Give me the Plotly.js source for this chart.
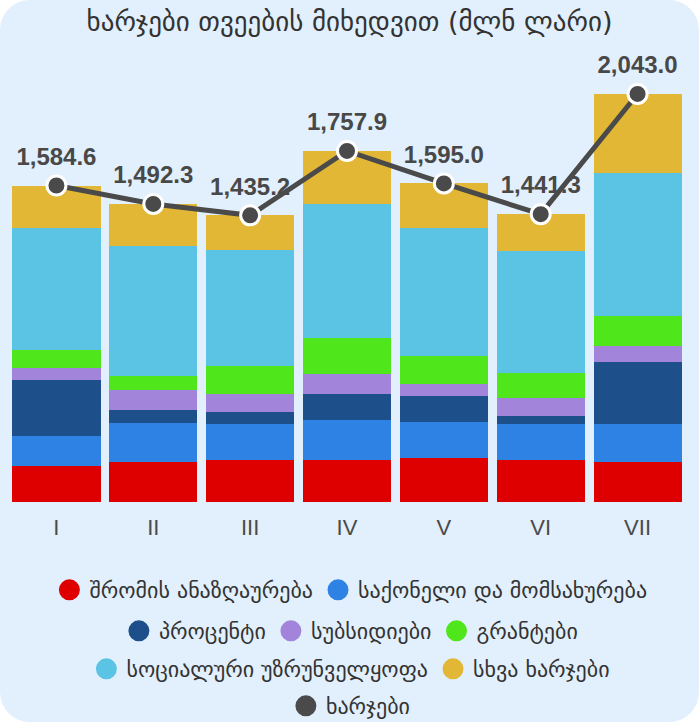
<!DOCTYPE html>
<html>
<head>
<meta charset="utf-8">
<script src="https://cdn.plot.ly/plotly-3.0.1.min.js"></script>
<style>
html,body{margin:0;padding:0;background:#ffffff;}
#wrap{position:absolute;left:0;top:0;width:699px;height:722px;background:#E2EFFC;border-radius:30px;overflow:hidden;}
#chart{width:699px;height:722px;}
</style>
</head>
<body>
<div id="wrap"><div id="chart"></div></div>
<script>
const months = ["I","II","III","IV","V","VI","VII"];
const labour    = [178.5, 201.8, 210.2, 208.9, 218.5, 209.5, 199.3];
const goods     = [150.1, 191.8, 180.1, 200.5, 180.2, 181.0, 190.9];
const interest  = [280.2,  66.7,  60.0, 130.3, 130.1,  40.2, 311.5];
const subsidies = [ 60.0, 101.7,  90.1, 100.3,  61.7,  92.2,  80.4];
const grants    = [ 90.1,  70.1, 140.1, 182.1, 140.1, 120.7, 150.7];
const social    = [610.5, 648.9, 580.5, 670.1, 640.7, 611.7, 713.4];
const other     = [215.2, 211.3, 174.2, 265.7, 223.6, 186.0, 396.8];
const totals    = [1584.6, 1492.3, 1435.2, 1757.9, 1595.0, 1441.3, 2043.0];

const seriesNames = ["შრომის ანაზღაურება","საქონელი და მომსახურება","პროცენტი","სუბსიდიები","გრანტები","სოციალური უზრუნველყოფა","სხვა ხარჯები"];
const totalName = "ხარჯები";
const colors = ["#DE0000","#2E82E3","#1D4F8A","#A384DB","#4FE61C","#5BC4E4","#E3B736"];
const lineColor = "#4A4A4A";
// which legend row each entry goes into (as in the reference)
const legendRows = ["legend","legend","legend2","legend2","legend2","legend3","legend3","legend4"];

const seriesData = [labour, goods, interest, subsidies, grants, social, other];
const geo = "DejaVu Sans, sans-serif";
const num = "Liberation Sans, Arial, sans-serif";

const traces = [];
seriesData.forEach((vals, i) => {
  traces.push({
    type: "bar", x: months, y: vals, name: seriesNames[i],
    marker: {color: colors[i]}, showlegend: false, hoverinfo: "skip"
  });
});
const labels = totals.map(v => v.toLocaleString("en-US", {minimumFractionDigits: 1, maximumFractionDigits: 1}));
// value labels (drawn first so the line passes over them)
traces.push({
  type: "scatter", mode: "markers+text", x: months, y: totals, name: totalName + " labels",
  marker: {color: lineColor, size: 22, opacity: 0},
  text: labels, textposition: "top center",
  textfont: {family: num, size: 24, color: "#484848", weight: "bold"},
  showlegend: false, cliponaxis: false
});
traces.push({
  type: "scatter", mode: "lines+markers", x: months, y: totals, name: totalName,
  line: {color: lineColor, width: 5},
  marker: {color: lineColor, size: 19, line: {color: "#ffffff", width: 3}},
  showlegend: false, cliponaxis: false
});
// legend entries with circular markers
seriesNames.concat([totalName]).forEach((n, i) => {
  const c = i < colors.length ? colors[i] : lineColor;
  traces.push({
    type: "scatter", mode: "markers", x: [null], y: [null], name: n,
    marker: {color: c, size: 16, symbol: "circle", line: {color: c, width: 5}},
    showlegend: true, legend: legendRows[i]
  });
});

function legendRow(yPix) {
  return {orientation: "h", xref: "container", x: 0.502, xanchor: "center",
          yref: "container", y: 1 - yPix / 722, yanchor: "middle",
          font: {family: geo, size: 22, color: "#333333"}, traceorder: "normal",
          itemsizing: "trace", bgcolor: "rgba(0,0,0,0)", borderwidth: 0};
}

const layout = {
  width: 699, height: 722,
  paper_bgcolor: "rgba(0,0,0,0)", plot_bgcolor: "rgba(0,0,0,0)",
  margin: {l: 8, r: 13, t: 60, b: 220},
  barmode: "stack", bargap: 0.09,
  title: {text: "ხარჯები თვეების მიხედვით (მლნ ლარი)", x: 0.5, xanchor: "center", y: 0.97, yanchor: "middle",
          font: {family: geo, size: 27, color: "#333333"}},
  xaxis: {type: "category", showgrid: false, zeroline: false, showline: false, ticks: "",
          tickfont: {family: num, size: 22, color: "#4a4a4a"}, ticklabelstandoff: 10},
  yaxis: {range: [0, 2213], showgrid: false, zeroline: false, showticklabels: false, showline: false, ticks: ""},
  showlegend: true,
  legend: legendRow(590),
  legend2: legendRow(631),
  legend3: legendRow(669),
  legend4: legendRow(706),
  hovermode: false
};
Plotly.newPlot("chart", traces, layout, {displayModeBar: false, staticPlot: true});
</script>
</body>
</html>
